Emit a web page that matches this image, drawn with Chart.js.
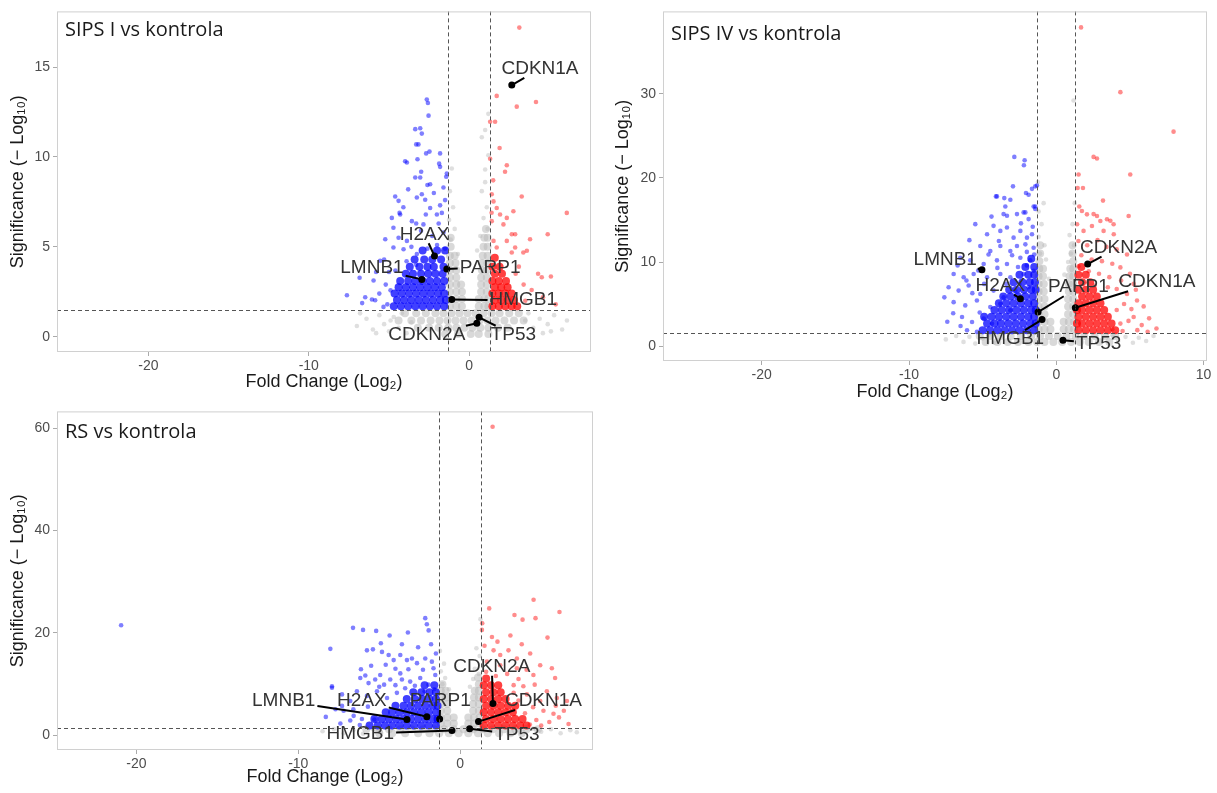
<!DOCTYPE html>
<html lang="pl">
<head>
<meta charset="UTF-8">
<title>Volcano plots – SIPS I, SIPS IV, RS vs kontrola</title>
<script src="https://cdn.jsdelivr.net/npm/chart.js"></script>
<style>
  body { margin: 0; background: #fff; }
  .panel { position: absolute; }
  #p1 { left: 0; top: 0; width: 600px; height: 400px; }
  #p2 { left: 600px; top: 0; width: 617px; height: 410px; }
  #p3 { left: 0; top: 400px; width: 600px; height: 393px; }
</style>
</head>
<body>
<div class="panel" id="p1"><canvas id="c1"></canvas></div>
<div class="panel" id="p2"><canvas id="c2"></canvas></div>
<div class="panel" id="p3"><canvas id="c3"></canvas></div>

<script>
// cut-offs (dashed lines)
const fcCut = 1.3;
const pCut = 1.5;

// ---------- SIPS I vs kontrola ----------
const p1XTicks = [-20, -10, 0];
const p1YTicks = [0, 5, 10, 15];
const p1Genes = ['CDKN1A', 'H2AX', 'LMNB1', 'PARP1', 'HMGB1', 'CDKN2A', 'TP53'];
const p1GeneX = [2.66, -2.16, -2.95, -1.39, -1.08, 0.48, 0.62];
const p1GeneY = [14.0, 4.49, 3.19, 3.77, 2.07, 0.75, 1.08];
const p1LabelX = [4.42, -2.78, -6.06, 1.31, 3.38, -2.64, 2.76];
const p1LabelY = [14.9, 5.7, 3.81, 3.86, 2.03, 0.11, 0.11];
const p1Gray = [[-7.0,0.6],[-6.4,1.0],[-6.0,0.4],[-5.6,1.2],[-5.3,0.7],[-5.0,0.3],[-4.7,1.1],[-4.4,0.5],[-6.8,1.3],[-5.8,0.2],[-4.9,0.9],[-4.2,1.3],[-3.9,0.2],[-3.6,0.8],[4.0,0.5],[4.4,1.0],[4.9,0.7],[5.3,1.2],[5.8,0.4],[3.7,1.3],[4.6,0.2],[5.1,0.3],[3.5,0.9],[6.1,0.9],
  [1.0,11.5],[0.79,11.1],[1.2,10.1],[1.0,8.6],[0.79,8.1],[-1.08,9.36],[-1.2,8.1],[-1.0,7.2],[-1.25,6.5],[-0.9,6.0],[1.1,7.2],[0.9,6.6],[1.15,6.0],[0.7,5.6],[1.0,9.3],[-1.15,5.4],[-0.7,4.6],[0.5,4.8],[1.2,12.4]];
const p1GrayDense = [[-4.0,1.3],[-3.3,1.3],[-2.7,1.3],[-2.1,1.3],[-1.6,1.3],[-1.1,1.3],[-0.6,1.3],[-0.1,1.3],[0.4,1.3],[0.9,1.3],[1.4,1.3],[1.9,1.3],[2.5,1.3],[3.1,1.3],
  [-4.4,0.9],[-3.6,0.9],[-3.0,0.9],[-2.4,0.9],[-1.85,0.9],[-1.35,0.9],[-0.85,0.9],[-0.35,0.9],[0.15,0.9],[0.65,0.9],[1.15,0.9],[1.65,0.9],[2.2,0.9],[2.8,0.9],[3.4,0.9],
  [-3.2,0.5],[-2.5,0.5],[-1.9,0.5],[-1.3,0.5],[-0.8,0.5],[-0.3,0.5],[0.2,0.5],[0.7,0.5],[1.2,0.5],[1.8,0.5],[2.4,0.5],
  [-1.5,0.15],[-0.7,0.15],[0.1,0.15],[0.6,0.15],[1.2,0.15],
  [-1.2,1.7],[-0.8,1.7],[-0.45,1.7],[-1.2,2.1],[-0.8,2.1],[-0.45,2.1],[-1.2,2.5],[-0.8,2.5],[-0.45,2.5],[-1.2,2.9],[-0.8,2.9],[-0.5,2.9],
  [-1.2,3.3],[-0.8,3.3],[-1.2,3.7],[-0.8,3.7],[-1.2,4.1],[-0.85,4.1],[-1.2,4.5],[-0.9,4.5],[-1.15,5.0],[-1.15,5.5],
  [0.6,1.7],[0.95,1.7],[1.2,1.7],[0.6,2.1],[0.95,2.1],[1.2,2.1],
  [0.75,2.5],[1.1,2.5],[0.75,2.9],[1.1,2.9],[0.75,3.3],[1.1,3.3],[0.8,3.7],[1.1,3.7],[0.8,4.1],[1.15,4.1],[0.85,4.5],[1.15,4.5],[0.9,5.0],[1.15,5.0],[0.95,5.5],[1.15,5.5],[1.05,6.0]];
const p1Blue = [[-2.64,13.2],[-2.57,13.0],[-2.53,12.3],[-3.36,11.55],[-3.05,11.6],[-2.95,11.3],[-3.3,10.7],[-3.16,10.7],[-2.68,10.2],[-2.47,10.3],[-3.99,9.76],[-3.88,9.69],[-3.22,9.87],[-1.81,10.2],[-1.87,9.63],[-1.81,9.45],[-2.99,9.18],[-1.39,9.08],[-1.43,8.9],[-3.36,8.86],[-3.05,8.86],[-2.6,8.44],[-2.43,8.48],
  [-4.61,7.8],[-4.4,7.56],[-3.26,7.75],[-2.95,7.93],[-2.74,7.62],[-2.43,7.16],[-1.81,7.31],[-2.01,6.8],[-1.7,6.89],[-4.34,6.89],[-3.57,6.43],[-2.85,6.25],[-4.72,6.06],[-5.23,5.42],[-4.4,5.51],[-3.88,5.33],[-4.72,4.96],[-4.09,4.87],[-3.26,4.6],
  [-4.82,6.61],[-4.3,6.8],[-7.62,2.31],[-6.48,2.2],[-6.83,3.28],[-5.96,3.13],[-6.06,2.07],[-5.55,4.23],[-5.34,1.66],[-5.3,4.3],[-4.9,2.58],[-4.6,3.68],[-5.86,2.03],[-6.67,1.87],
  [-3.0,5.9],[-2.3,5.6],[-1.6,5.8],[-2.0,5.1],[-1.5,4.9],[-3.6,5.0],[-2.6,4.9],[-5.0,3.6],[-5.2,2.9],[-5.6,2.4],[-5.1,1.8],[-3.9,4.2],[-3.3,4.0],[-1.9,6.3],[-2.2,8.0],[-1.6,8.3],[-3.8,8.2],[-4.1,7.2],[-1.5,7.6],[-2.7,6.8],[-3.3,6.3],[-5.8,3.6]];
const p1BlueDense = [[-4.7,1.7],[-4.25,1.7],[-3.8,1.7],[-3.35,1.7],[-2.9,1.7],[-2.45,1.7],[-2.0,1.7],[-1.55,1.7],
  [-4.5,2.05],[-4.05,2.05],[-3.6,2.05],[-3.15,2.05],[-2.7,2.05],[-2.25,2.05],[-1.8,2.05],[-1.45,2.05],
  [-4.65,2.4],[-4.2,2.4],[-3.75,2.4],[-3.3,2.4],[-2.85,2.4],[-2.4,2.4],[-1.95,2.4],[-1.55,2.4],
  [-4.4,2.75],[-3.95,2.75],[-3.5,2.75],[-3.05,2.75],[-2.6,2.75],[-2.15,2.75],[-1.7,2.75],
  [-4.3,3.1],[-3.8,3.1],[-3.35,3.1],[-2.9,3.1],[-2.45,3.1],[-2.0,3.1],[-1.55,3.1],
  [-3.95,3.5],[-3.5,3.5],[-3.0,3.5],[-2.55,3.5],[-2.1,3.5],[-1.65,3.5],
  [-3.7,3.9],[-3.1,3.9],[-2.6,3.9],[-2.2,3.9],[-1.6,3.9],
  [-3.4,4.3],[-2.8,4.3],[-2.3,4.3],[-1.75,4.3],[-2.9,4.8],[-2.0,4.8],[-1.5,4.8]];
const p1Red = [[3.13,17.2],[1.72,13.4],[2.97,12.8],[4.17,13.06],[1.31,11.96],[1.62,11.96],[1.31,9.9],[2.35,9.54],[2.24,9.18],[1.41,7.93],[3.28,7.8],[1.52,7.53],[1.72,7.16],[1.93,6.8],[2.35,6.61],[2.76,6.98],[1.41,6.43],[2.14,6.25],[2.87,5.7],[1.52,5.33],[2.35,5.33],[2.87,4.96],[3.38,4.69],[1.72,4.96],
  [6.09,6.89],[4.53,3.31],[3.6,4.78],[2.66,4.69],[3.8,5.42],[2.66,5.7],[4.3,3.5],[5.1,3.35],[4.9,5.7],[1.5,8.7],[1.9,10.5],[1.4,6.9],[3.1,3.9],[3.9,2.6],[4.6,2.2],[3.5,2.0],[5.4,1.8],[2.9,3.5],[3.4,2.9]];
const p1RedDense = [[1.45,1.7],[1.85,1.7],[2.25,1.7],[2.65,1.7],[3.0,1.7],
  [1.6,2.05],[2.0,2.05],[2.4,2.05],[2.8,2.05],
  [1.45,2.4],[1.85,2.4],[2.25,2.4],[2.65,2.4],
  [1.6,2.75],[2.0,2.75],[2.4,2.75],
  [1.45,3.1],[1.85,3.1],[2.3,3.1],
  [1.6,3.5],[2.05,3.5],[1.45,3.9],[1.9,3.9],[1.6,4.4]];

// ---------- SIPS IV vs kontrola ----------
const p2XTicks = [-20, -10, 0, 10];
const p2YTicks = [0, 10, 20, 30];
const p2Genes = ['LMNB1', 'H2AX', 'PARP1', 'HMGB1', 'CDKN2A', 'CDKN1A', 'TP53'];
const p2GeneX = [-5.05, -2.44, -1.24, -0.97, 2.13, 1.29, 0.45];
const p2GeneY = [9.09, 5.63, 4.05, 3.15, 9.76, 4.57, 0.71];
const p2LabelX = [-7.54, -3.8, 1.5, -3.12, 4.23, 6.83, 2.87];
const p2LabelY = [10.3, 7.2, 7.0, 0.83, 11.7, 7.6, 0.24];
const p2Gray = [[-7.5,0.8],[-6.8,1.2],[-6.3,0.5],[-5.9,1.1],[-5.5,0.3],[-5.0,0.9],[-4.6,1.3],[-4.2,0.4],[4.2,0.6],[4.7,1.1],[5.2,0.4],[5.6,1.0],[6.1,0.6],[3.8,1.3],[6.6,1.2],
  [1.17,29.2],[-0.86,17.0],[-1.2,16.0],[-1.0,14.5],[-1.2,13.0],[-0.8,12.0],[-1.1,11.0],[1.1,14.5],[0.9,13.2],[1.2,12.0],[1.0,11.0],[0.8,10.0],[-0.7,10.3],[-1.25,19.5],[1.25,17.0],[0.55,8.5],[-0.5,8.0]];
const p2GrayDense = [[-5.2,1.2],[-4.5,1.2],[-3.8,1.2],[-3.1,1.2],[-2.4,1.2],[-1.7,1.2],[-1.1,1.2],[-0.5,1.2],[0.1,1.2],[0.7,1.2],[1.3,1.2],[1.9,1.2],[2.6,1.2],[3.3,1.2],[4.0,1.2],
  [-4.8,0.5],[-4.0,0.5],[-3.3,0.5],[-2.6,0.5],[-1.9,0.5],[-1.3,0.5],[-0.8,0.5],[-0.2,0.5],[0.4,0.5],[1.0,0.5],[1.6,0.5],[2.2,0.5],[2.9,0.5],[3.6,0.5],
  [-1.2,2.0],[-0.8,2.0],[-0.4,2.0],[-1.2,2.9],[-0.8,2.9],[-0.4,2.9],
  [-1.2,3.8],[-0.8,3.8],[-1.2,4.7],[-0.8,4.7],[-1.2,5.6],[-0.8,5.6],[-1.2,6.5],[-0.85,6.5],[-1.2,7.4],[-0.85,7.4],[-1.2,8.3],[-0.9,8.3],[-1.15,9.2],[-0.9,9.2],[-1.15,10.1],[-1.1,11.0],[-1.1,12.0],
  [0.5,2.0],[0.85,2.0],[1.2,2.0],[0.5,2.9],[0.85,2.9],[1.2,2.9],
  [0.8,3.8],[1.15,3.8],[0.8,4.7],[1.15,4.7],[0.8,5.6],[1.15,5.6],[0.85,6.5],[1.15,6.5],[0.85,7.4],[1.15,7.4],[0.9,8.3],[1.15,8.3],[0.95,9.2],[1.15,9.2],[1.15,10.1],[1.1,11.0],[1.1,12.0]];
const p2Blue = [[-2.85,22.5],[-2.15,22.1],[-2.2,21.5],[-2.94,19.0],[-4.1,17.8],[-3.53,17.6],[-1.65,18.7],[-1.31,19.1],[-2.06,18.2],[-1.88,18.0],[-5.5,14.5],[-3.58,15.7],[-3.35,15.5],[-2.1,15.9],[-1.43,16.6],[-1.43,19.0],[-1.54,16.6],[-1.43,16.3],[-4.03,17.8],[-3.46,16.6],[-3.12,17.4],[-2.67,15.7],[-2.22,15.9],[-1.88,15.1],[-4.26,14.3],[-3.8,13.7],[-3.35,14.1],[-4.7,13.3],[-2.9,12.9],[-2.44,13.7],[-1.99,12.9],[-1.65,13.3],
  [-5.16,11.9],[-4.48,11.3],[-3.8,11.9],[-3.12,11.3],[-2.67,11.9],[-2.1,12.1],[-1.54,11.7],
  [-6.52,10.5],[-5.84,10.2],[-4.93,9.76],[-4.03,10.2],[-3.35,9.76],[-2.44,10.5],[-1.77,10.2],
  [-6.97,8.58],[-6.29,8.18],[-5.61,8.58],[-4.7,8.18],[-3.8,8.58],[-3.12,8.18],[-2.22,8.58],[-1.54,8.97],
  [-7.31,7.0],[-6.63,6.6],[-5.95,7.2],[-5.16,6.2],[-4.26,6.6],[-3.58,5.8],[-2.78,6.6],[-1.88,7.0],
  [-6.97,5.23],[-6.18,4.84],[-5.39,5.43],[-4.48,4.64],[-3.8,5.04],[-3.12,4.25],
  [-6.4,3.46],[-5.72,2.87],[-4.93,3.27],[-4.37,2.68],[-6.06,1.89],[-5.39,1.69],
  [-7.0,3.9],[-7.6,5.8],[-6.7,9.6],[-5.9,12.6],[-4.4,15.4],[-5.3,9.0],[-4.0,9.3],[-2.6,9.4],[-3.0,10.8],[-2.0,11.2],[-1.6,14.2],[-2.4,14.6],[-3.9,12.5],[-4.9,7.4],[-5.7,6.3],[-6.5,2.4],[-7.4,2.9],[-4.6,10.9],[-3.4,7.4],[-2.5,7.4],[-1.5,10.9],[-6.1,7.8],[-5.2,4.0],[-2.0,9.6]];
const p2BlueDense = [[-5.0,1.9],[-4.5,1.9],[-4.0,1.9],[-3.5,1.9],[-3.0,1.9],[-2.5,1.9],[-2.0,1.9],[-1.5,1.9],
  [-4.7,2.7],[-4.2,2.7],[-3.75,2.7],[-3.25,2.7],[-2.75,2.7],[-2.25,2.7],[-1.75,2.7],[-1.4,2.7],
  [-4.9,3.5],[-4.4,3.5],[-3.9,3.5],[-3.4,3.5],[-2.9,3.5],[-2.4,3.5],[-1.9,3.5],[-1.5,3.5],
  [-4.2,4.3],[-3.7,4.3],[-3.2,4.3],[-2.7,4.3],[-2.2,4.3],[-1.7,4.3],[-1.4,4.3],
  [-3.9,5.1],[-3.4,5.1],[-2.9,5.1],[-2.4,5.1],[-1.9,5.1],[-1.5,5.1],
  [-3.6,5.9],[-3.1,5.9],[-2.6,5.9],[-2.1,5.9],[-1.6,5.9],
  [-3.2,6.7],[-2.7,6.7],[-2.2,6.7],[-1.7,6.7],[-1.4,6.7],
  [-2.9,7.6],[-2.3,7.6],[-1.8,7.6],[-1.45,7.6],[-2.5,8.5],[-1.9,8.5],[-1.5,8.5],[-2.1,9.4],[-1.5,9.4],[-1.7,10.4]];
const p2Red = [[1.68,37.9],[4.35,30.2],[7.96,25.5],[2.53,22.5],[2.76,22.3],[1.51,20.4],[5.02,20.4],[1.45,18.8],[1.81,18.8],[3.17,17.3],[1.56,16.6],[1.74,16.06],[2.08,15.67],[2.76,15.47],[2.99,14.88],[3.44,15.08],[3.89,14.49],[2.42,14.29],[1.85,13.7],[1.41,14.49],[3.21,13.7],[4.91,15.47],[3.9,13.3],[5.48,5.43],[5.93,4.72],[4.35,9.36],[5.25,7.4],[4.8,10.9],[3.67,14.9],[2.53,15.7],[5.25,3.46],[4.35,2.68],
  [1.5,12.5],[2.1,12.0],[2.8,12.6],[3.4,11.8],[4.1,11.5],[1.7,10.8],[2.4,10.3],[3.1,10.1],[3.8,9.8],[1.5,9.5],[2.2,8.9],[2.9,8.6],[3.6,8.2],[4.4,7.8],[5.0,8.6],[4.1,6.8],[4.8,6.2],[5.4,6.7],[4.6,5.0],[5.1,4.4],[4.1,4.3],[4.9,3.0],[5.8,2.5],[6.3,3.3],[3.8,2.0],[4.5,1.8],[5.5,1.9],[6.8,2.1],[6.2,1.7],[3.5,7.0],[2.6,7.2]];
const p2RedDense = [[1.5,1.9],[2.0,1.9],[2.5,1.9],[3.0,1.9],[3.5,1.9],[4.0,1.9],
  [1.4,2.7],[1.75,2.7],[2.25,2.7],[2.75,2.7],[3.25,2.7],[3.75,2.7],
  [1.5,3.5],[2.0,3.5],[2.5,3.5],[3.0,3.5],[3.5,3.5],
  [1.4,4.3],[1.75,4.3],[2.25,4.3],[2.75,4.3],[3.25,4.3],
  [1.5,5.1],[2.0,5.1],[2.5,5.1],[3.0,5.1],
  [1.75,5.9],[2.25,5.9],[2.75,5.9],[1.5,6.7],[2.0,6.7],[2.5,6.7],
  [1.75,7.6],[2.3,7.6],[1.5,8.5],[2.0,8.5],[1.7,9.4]];

// ---------- RS vs kontrola ----------
const p3XTicks = [-20, -10, 0];
const p3YTicks = [0, 20, 40, 60];
const p3Genes = ['LMNB1', 'H2AX', 'PARP1', 'CDKN2A', 'CDKN1A', 'HMGB1', 'TP53'];
const p3GeneX = [-3.29, -2.06, -1.27, 2.02, 1.13, -0.51, 0.58];
const p3GeneY = [3.07, 3.64, 3.2, 6.2, 2.68, 0.96, 1.28];
const p3LabelX = [-10.9, -6.07, -1.23, 1.95, 5.14, -6.17, 3.5];
const p3LabelY = [6.7, 6.7, 6.7, 13.4, 6.7, 0.32, 0.13];
const p3Gray = [[-8.5,0.8],[-7.8,1.2],[-7.2,0.4],[-6.6,1.0],[-6.0,0.3],[-5.4,1.3],[-4.9,0.6],[5.0,0.7],[5.6,1.2],[6.2,0.4],[6.8,1.0],[4.5,1.3],[7.2,0.6],
  [-1.0,14.0],[1.0,17.0],[1.2,15.5],[-0.93,11.2],[-1.2,12.5],[0.9,13.0],[1.15,12.0],[-1.1,10.0],[0.8,11.0],[-0.7,9.0],[0.6,9.5],[1.25,22.7],[-1.25,16.5]];
const p3GrayDense = [[-5.8,1.2],[-5.1,1.2],[-4.4,1.2],[-3.7,1.2],[-3.0,1.2],[-2.3,1.2],[-1.6,1.2],[-1.0,1.2],[-0.4,1.2],[0.2,1.2],[0.8,1.2],[1.4,1.2],[2.0,1.2],[2.7,1.2],[3.4,1.2],[4.1,1.2],[4.8,1.2],
  [-5.0,0.4],[-4.2,0.4],[-3.4,0.4],[-2.6,0.4],[-1.9,0.4],[-1.3,0.4],[-0.7,0.4],[-0.1,0.4],[0.5,0.4],[1.1,0.4],[1.7,0.4],[2.4,0.4],[3.1,0.4],[3.8,0.4],
  [-1.2,2.3],[-0.8,2.3],[-0.4,2.3],[-1.2,3.5],[-0.8,3.5],[-0.4,3.5],
  [-1.2,4.8],[-0.8,4.8],[-1.2,6.1],[-0.8,6.1],[-1.2,7.4],[-0.85,7.4],[-1.2,8.7],[-0.9,8.7],[-1.1,10.0],
  [0.5,2.3],[0.85,2.3],[1.2,2.3],[0.5,3.5],[0.85,3.5],[1.2,3.5],
  [0.8,4.8],[1.15,4.8],[0.8,6.1],[1.15,6.1],[0.85,7.4],[1.15,7.4],[0.9,8.7],[1.15,8.7],[1.15,10.0],[1.1,11.3]];
const p3Blue = [[-20.94,21.5],[-6.62,21.0],[-6.0,20.6],[-5.19,20.4],[-2.16,22.9],[-2.06,21.7],[-1.95,20.5],[-3.23,20.1],[-4.36,19.5],[-4.9,18.0],[-5.39,16.8],[-5.76,16.6],[-8.02,16.9],[-6.13,12.9],[-5.86,11.7],[-5.25,10.9],[-7.92,9.3],[-7.3,5.75],[-7.7,5.1],
  [-4.83,16.3],[-4.42,15.7],[-4.11,14.7],[-3.7,15.7],[-3.29,14.7],[-2.98,15.0],[-2.67,14.1],[-2.16,15.0],[-1.75,14.4],[-1.65,13.1],
  [-6.17,11.2],[-5.66,10.2],[-4.94,11.8],[-4.32,10.9],[-3.7,12.1],[-3.09,10.5],[-2.47,11.2],[-1.96,9.9],[-1.54,11.8],
  [-7.3,8.0],[-6.79,6.7],[-6.38,8.6],[-5.76,7.7],[-5.14,8.6],[-4.52,7.3],[-3.91,8.3],[-7.92,9.6],[-7.2,4.8],[-6.58,3.8],[-6.07,3.2],[-6.79,2.9],
  [-5.5,13.6],[-4.0,13.0],[-3.2,12.9],[-2.3,12.8],[-1.5,16.0],[-1.8,17.8],[-2.6,17.2],[-3.6,17.8],[-4.6,13.8],[-5.0,9.5],[-4.0,9.8],[-3.4,9.2],[-2.8,9.7],[-2.2,8.6],[-1.6,9.0],[-6.6,5.1],[-5.7,5.6],[-6.2,2.0],[-7.4,2.3],[-8.3,3.6],[-5.3,3.1],[-4.7,9.9],[-3.6,10.9]];
const p3BlueDense = [[-5.6,1.9],[-5.1,1.9],[-4.65,1.9],[-4.2,1.9],[-3.75,1.9],[-3.3,1.9],[-2.85,1.9],[-2.4,1.9],[-1.95,1.9],[-1.5,1.9],
  [-5.3,3.2],[-4.85,3.2],[-4.4,3.2],[-3.95,3.2],[-3.5,3.2],[-3.05,3.2],[-2.6,3.2],[-2.15,3.2],[-1.7,3.2],[-1.4,3.2],
  [-4.6,4.5],[-4.2,4.5],[-3.75,4.5],[-3.3,4.5],[-2.85,4.5],[-2.4,4.5],[-1.95,4.5],[-1.5,4.5],
  [-4.0,5.8],[-3.5,5.8],[-3.05,5.8],[-2.6,5.8],[-2.15,5.8],[-1.7,5.8],[-1.4,5.8],
  [-3.3,7.1],[-2.8,7.1],[-2.35,7.1],[-1.9,7.1],[-1.5,7.1],
  [-2.9,8.4],[-2.4,8.4],[-1.9,8.4],[-1.5,8.4],[-2.2,9.8],[-1.6,9.8]];
const p3Red = [[2.0,60.3],[4.53,26.5],[6.13,24.1],[1.79,24.8],[3.35,23.5],[3.85,22.6],[4.65,22.9],[5.39,19.1],[1.36,21.9],[1.34,20.6],[1.96,19.2],
  [2.06,16.6],[2.47,15.7],[2.98,16.6],[3.5,15.0],[4.32,16.0],[4.94,13.7],[5.66,13.1],[5.86,11.2],[4.52,11.8],[3.5,13.1],[2.47,13.7],[1.65,14.4],
  [5.35,8.6],[5.97,7.3],[6.59,6.7],[4.94,6.7],[4.12,8.0],[6.69,2.2],[5.76,4.2],[5.14,4.8],
  [1.5,17.5],[2.3,18.3],[3.1,19.5],[3.8,17.8],[1.6,12.4],[2.2,11.6],[2.9,12.0],[3.6,11.0],[4.1,12.8],[3.3,9.8],[3.9,9.6],[4.6,9.9],[4.5,5.5],[4.0,4.3],[4.7,3.0],[5.5,2.6],[6.1,3.5],[5.9,5.8],[4.3,2.1],[5.0,1.9],[6.4,4.8],[3.6,6.8],[3.3,8.3]];
const p3RedDense = [[1.45,1.9],[1.9,1.9],[2.35,1.9],[2.8,1.9],[3.25,1.9],[3.7,1.9],[4.1,1.9],
  [1.6,3.2],[2.05,3.2],[2.5,3.2],[2.95,3.2],[3.4,3.2],[3.85,3.2],
  [1.45,4.5],[1.9,4.5],[2.35,4.5],[2.8,4.5],[3.25,4.5],
  [1.6,5.8],[2.05,5.8],[2.5,5.8],[2.95,5.8],[3.4,5.8],
  [1.45,7.1],[1.9,7.1],[2.35,7.1],[2.8,7.1],
  [1.6,8.4],[2.05,8.4],[2.5,8.4],[1.45,9.8],[1.9,9.8],[2.35,9.8],[1.6,11.1]];

const FONT = '"Liberation Sans", Arial, Helvetica, sans-serif';
const toXY = arr => arr.map(p => ({ x: p[0], y: p[1] }));

function overlay(p) {
  return {
    id: 'overlay' + p.canvas,
    afterDatasetsDraw(chart) {
      const { ctx, chartArea: a, scales: { x, y } } = chart;
      ctx.save();
      // cut-off lines
      ctx.strokeStyle = '#555';
      ctx.lineWidth = 1;
      ctx.setLineDash([4, 3]);
      ctx.beginPath();
      [-fcCut, fcCut].forEach(v => {
        const px = Math.round(x.getPixelForValue(v)) + 0.5;
        ctx.moveTo(px, a.top); ctx.lineTo(px, a.bottom);
      });
      const py = Math.round(y.getPixelForValue(pCut)) + 0.5;
      ctx.moveTo(a.left, py); ctx.lineTo(a.right, py);
      ctx.stroke();
      ctx.setLineDash([]);

      // gene labels + connectors
      ctx.font = '19px ' + FONT;
      ctx.textAlign = 'center';
      ctx.textBaseline = 'middle';
      p.genes.forEach((g, i) => {
        const gx = x.getPixelForValue(p.geneX[i]), gy = y.getPixelForValue(p.geneY[i]);
        const lx = x.getPixelForValue(p.labelX[i]), ly = y.getPixelForValue(p.labelY[i]);
        const w = ctx.measureText(g).width + 4, h = 18;
        const dx = gx - lx, dy = gy - ly;
        const t = Math.min(dx ? (w / 2) / Math.abs(dx) : Infinity, dy ? (h / 2) / Math.abs(dy) : Infinity);
        if (t < 1) {
          ctx.strokeStyle = '#000';
          ctx.lineWidth = 2;
          ctx.beginPath();
          ctx.moveTo(lx + dx * t, ly + dy * t);
          ctx.lineTo(gx, gy);
          ctx.stroke();
        }
        ctx.fillStyle = '#333';
        ctx.fillText(g, lx, ly);
      });

      // frame
      ctx.strokeStyle = '#d0d0d0';
      ctx.lineWidth = 1;
      ctx.strokeRect(a.left + 0.5, a.top + 0.5, a.right - a.left - 1, a.bottom - a.top - 1);

      // panel title
      ctx.font = '20px "Open Sans", "Noto Sans", sans-serif';
      ctx.fillStyle = '#1a1a1a';
      ctx.textAlign = 'left';
      ctx.fillText(p.title, a.left + 8, a.top + p.titleDy);
      ctx.restore();
    }
  };
}

function makePanel(p) {
  const pts = (data, color, r) => ({
    data: toXY(data), backgroundColor: color, borderWidth: 0, pointRadius: r, pointHoverRadius: r
  });
  new Chart(document.getElementById(p.canvas), {
    type: 'scatter',
    data: {
      datasets: [
        pts(p.genes.map((g, i) => [p.geneX[i], p.geneY[i]]), '#000', 3.5),
        pts(p.blue, 'rgba(0,0,255,0.5)', 2.3),
        pts(p.red, 'rgba(255,0,0,0.45)', 2.3),
        pts(p.blueDense, 'rgba(0,0,255,0.75)', 4),
        pts(p.redDense, 'rgba(255,0,0,0.75)', 4),
        pts(p.gray, 'rgba(185,185,185,0.45)', 2.3),
        pts(p.grayDense, 'rgba(185,185,185,0.55)', 4)
      ]
    },
    options: {
      responsive: true,
      maintainAspectRatio: false,
      animation: false,
      events: [],
      layout: { padding: { left: 0, top: p.padTop, right: p.padRight, bottom: 0 } },
      plugins: { legend: { display: false }, tooltip: { enabled: false } },
      scales: {
        x: {
          type: 'linear', min: p.xMin, max: p.xMax,
          afterBuildTicks: s => { s.ticks = p.xTicks.map(v => ({ value: v })); },
          afterFit: s => { s.height = p.xAxisH; },
          grid: { display: true, drawOnChartArea: false, drawTicks: true, tickLength: 4, color: '#aaa' },
          border: { display: false },
          ticks: { font: { family: FONT, size: 14 }, color: '#4d4d4d', padding: 2, maxRotation: 0, callback: v => String(v) },
          title: { display: true, text: 'Fold Change (Log₂)', font: { family: FONT, size: 18 }, color: '#1a1a1a', padding: { top: 0, bottom: p.xTitlePad } }
        },
        y: {
          type: 'linear', min: p.yMin, max: p.yMax,
          afterBuildTicks: s => { s.ticks = p.yTicks.map(v => ({ value: v })); },
          afterFit: s => { s.width = p.yAxisW; },
          grid: { display: true, drawOnChartArea: false, drawTicks: true, tickLength: 4, color: '#aaa' },
          border: { display: false },
          ticks: { font: { family: FONT, size: 14 }, color: '#4d4d4d', padding: 3, callback: v => String(v) },
          title: { display: true, text: 'Significance (− Log₁₀)', font: { family: FONT, size: 18 }, color: '#1a1a1a', padding: { top: p.yTitlePad, bottom: 0 } }
        }
      }
    },
    plugins: [overlay(p)]
  });
}

makePanel({
  canvas: 'c1', title: 'SIPS I vs kontrola', titleDy: 19,
  xMin: -25.7, xMax: 7.6, yMin: -0.85, yMax: 18.1, xTicks: p1XTicks, yTicks: p1YTicks,
  yAxisW: 57, xAxisH: 48, padTop: 8, padRight: 9, yTitlePad: 7.2, xTitlePad: 7.2,
  genes: p1Genes, geneX: p1GeneX, geneY: p1GeneY, labelX: p1LabelX, labelY: p1LabelY,
  gray: p1Gray, grayDense: p1GrayDense, blue: p1Blue, blueDense: p1BlueDense, red: p1Red, redDense: p1RedDense
});
makePanel({
  canvas: 'c2', title: 'SIPS IV vs kontrola', titleDy: 23,
  xMin: -26.7, xMax: 10.23, yMin: -1.77, yMax: 39.8, xTicks: p2XTicks, yTicks: p2YTicks,
  yAxisW: 63, xAxisH: 49, padTop: 9, padRight: 10, yTitlePad: 12.2, xTitlePad: 7.2,
  genes: p2Genes, geneX: p2GeneX, geneY: p2GeneY, labelX: p2LabelX, labelY: p2LabelY,
  gray: p2Gray, grayDense: p2GrayDense, blue: p2Blue, blueDense: p2BlueDense, red: p2Red, redDense: p2RedDense
});
makePanel({
  canvas: 'c3', title: 'RS vs kontrola', titleDy: 21,
  xMin: -24.9, xMax: 8.2, yMin: -2.87, yMax: 63.3, xTicks: p3XTicks, yTicks: p3YTicks,
  yAxisW: 57, xAxisH: 43, padTop: 5, padRight: 7, yTitlePad: 7.2, xTitlePad: 5.2,
  genes: p3Genes, geneX: p3GeneX, geneY: p3GeneY, labelX: p3LabelX, labelY: p3LabelY,
  gray: p3Gray, grayDense: p3GrayDense, blue: p3Blue, blueDense: p3BlueDense, red: p3Red, redDense: p3RedDense
});
</script>
</body>
</html>
